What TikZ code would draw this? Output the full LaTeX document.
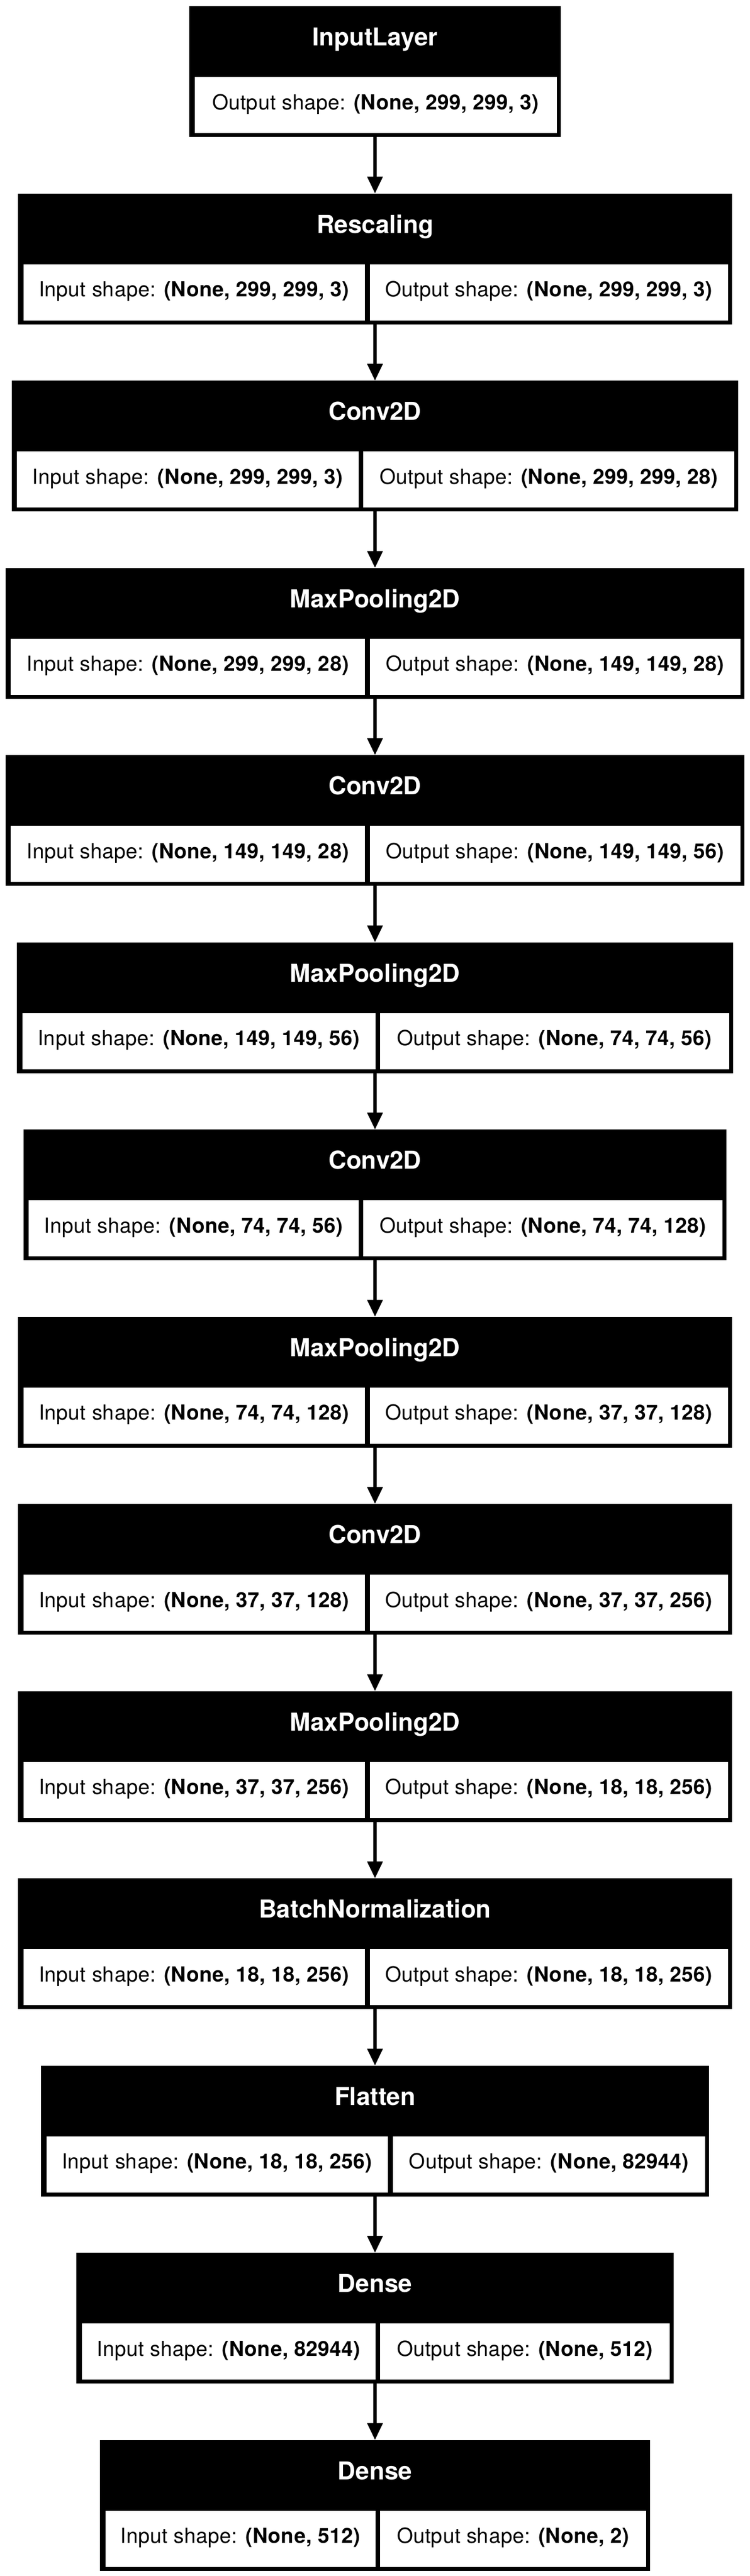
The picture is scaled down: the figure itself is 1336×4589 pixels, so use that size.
\documentclass[tikz,border=0pt]{standalone}
\usepackage{fontspec}
\usetikzlibrary{arrows.meta}
\newfontfamily\headfont{TeX Gyre Heros}
\newfontfamily\cellfont[LetterSpace=1.2]{TeX Gyre Heros}
\tikzset{
  outerbox/.style={fill=black, inner sep=0pt, outer sep=0pt},
  cellbox/.style={fill=white, inner sep=0pt, outer sep=0pt},
  hdr/.style={text=white, font=\headfont\bfseries\fontsize{44}{50}\selectfont, inner sep=0pt, anchor=base},
  celltxt/.style={text=black, font=\cellfont\fontsize{37}{42}\selectfont, inner sep=0pt, anchor=base},
  conn/.style={line width=5.3pt, -{Triangle[length=30pt,width=27pt]}},
}
\newcommand\layerrow[8]{%
  \pgfmathsetmacro\lT{11+333.5*#1}%
  \pgfmathsetmacro\lW{#4-#3}%
  \pgfmathsetmacro\lcy{\lT+116.5}%
  \node[outerbox, minimum width=\lW pt, minimum height=233pt] (L#1) at (668,\lcy) {};
  \node[hdr] (H#1) at (668,\lT+70.7) {#2};
  \pgfmathsetmacro\la{#3+9.5}%
  \pgfmathsetmacro\lw{#5-\la}%
  \pgfmathsetmacro\lc{(\la+#5)/2}%
  \pgfmathsetmacro\rb{#4-7}%
  \pgfmathsetmacro\rw{\rb-#6}%
  \pgfmathsetmacro\rc{(#6+\rb)/2}%
  \pgfmathsetmacro\ccy{\lT+176.3}%
  \node[cellbox, minimum width=\lw pt, minimum height=100pt] (I#1) at (\lc,\ccy) {};
  \node[cellbox, minimum width=\rw pt, minimum height=100pt] (O#1) at (\rc,\ccy) {};
  \node[celltxt] (IT#1) at (\lc,\lT+184) {Input shape: \textbf{#7}};
  \node[celltxt] (OT#1) at (\rc,\lT+184) {Output shape: \textbf{#8}};
}
\begin{document}
\begin{tikzpicture}[x=1pt,y=-1pt]
\fill[white] (0,0) rectangle (1336,4589);
\useasboundingbox (0,0) rectangle (1336,4589);
% InputLayer
\node[outerbox, minimum width=661.4pt, minimum height=233pt] (L0) at (668,127.5) {};
\node[hdr] (H0) at (668,81.7) {InputLayer};
\node[cellbox, minimum width=644.9pt, minimum height=100pt] (O0) at (669.25,187.3) {};
\node[celltxt] (OT0) at (669.25,195) {Output shape: \textbf{(None, 299, 299, 3)}};
\layerrow{1}{Rescaling}{32}{1304}{650}{658.7}{(None, 299, 299, 3)}{(None, 299, 299, 3)}
\layerrow{2}{Conv2D}{20.7}{1315.3}{639}{647.3}{(None, 299, 299, 3)}{(None, 299, 299, 28)}
\layerrow{3}{MaxPooling2D}{9.7}{1326.3}{650}{658.7}{(None, 299, 299, 28)}{(None, 149, 149, 28)}
\layerrow{4}{Conv2D}{9.7}{1326.3}{650}{658.7}{(None, 149, 149, 28)}{(None, 149, 149, 56)}
\layerrow{5}{MaxPooling2D}{30.3}{1305.7}{669}{677.3}{(None, 149, 149, 56)}{(None, 74, 74, 56)}
\layerrow{6}{Conv2D}{41.7}{1294.3}{639}{647.3}{(None, 74, 74, 56)}{(None, 74, 74, 128)}
\layerrow{7}{MaxPooling2D}{32}{1304}{650}{658.7}{(None, 74, 74, 128)}{(None, 37, 37, 128)}
\layerrow{8}{Conv2D}{32}{1304}{650}{658.7}{(None, 37, 37, 128)}{(None, 37, 37, 256)}
\layerrow{9}{MaxPooling2D}{32}{1304}{650}{658.7}{(None, 37, 37, 256)}{(None, 18, 18, 256)}
\layerrow{10}{BatchNormalization}{32}{1304}{650}{658.7}{(None, 18, 18, 256)}{(None, 18, 18, 256)}
\layerrow{11}{Flatten}{73}{1263}{691}{700}{(None, 18, 18, 256)}{(None, 82944)}
\layerrow{12}{Dense}{136}{1200}{669}{677.3}{(None, 82944)}{(None, 512)}
\layerrow{13}{Dense}{178}{1158}{669}{677.3}{(None, 512)}{(None, 2)}
\foreach \a/\b in {0/1,1/2,2/3,3/4,4/5,5/6,6/7,7/8,8/9,9/10,10/11,11/12,12/13}
  \draw[conn] (L\a.south) -- (L\b.north);
\end{tikzpicture}
\end{document}
